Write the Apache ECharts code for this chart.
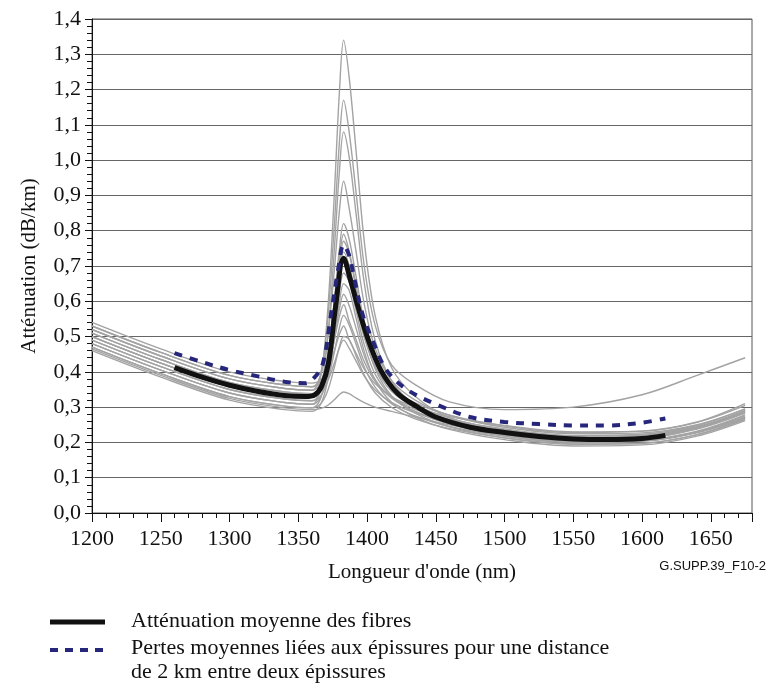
<!DOCTYPE html>
<html>
<head>
<meta charset="utf-8">
<script src="https://cdn.jsdelivr.net/npm/echarts@6/dist/echarts.min.js"></script>
<style>
  html, body { margin: 0; padding: 0; background: #fff; }
  #fig { width: 774px; height: 693px; }
</style>
</head>
<body>
<div id="fig"></div>
<script>
// longueurs d'onde communes aux courbes des fibres (nm)
const fiberWl = [1200, 1250, 1300, 1340, 1360, 1366, 1371, 1376, 1380, 1383, 1387, 1392, 1398, 1406, 1418, 1435, 1460, 1500, 1550, 1600, 1640, 1675];

// attenuation de chaque fibre (dB/km)
const f01 = [0.50, 0.425, 0.36, 0.333, 0.328, 0.379, 0.551, 0.885, 1.198, 1.34, 1.236, 1.028, 0.77, 0.558, 0.411, 0.331, 0.27, 0.228, 0.21, 0.212, 0.24, 0.29];
const f02 = [0.52, 0.445, 0.38, 0.353, 0.348, 0.389, 0.529, 0.80, 1.055, 1.17, 1.08, 0.91, 0.70, 0.531, 0.419, 0.364, 0.315, 0.293, 0.30, 0.335, 0.39, 0.44];
const f03 = [0.48, 0.405, 0.34, 0.313, 0.308, 0.347, 0.478, 0.733, 0.972, 1.08, 1.01, 0.85, 0.652, 0.488, 0.373, 0.306, 0.255, 0.218, 0.20, 0.205, 0.23, 0.275];
const f04 = [0.53, 0.455, 0.39, 0.363, 0.358, 0.387, 0.486, 0.678, 0.859, 0.94, 0.864, 0.742, 0.592, 0.466, 0.375, 0.32, 0.277, 0.243, 0.225, 0.227, 0.25, 0.295];
const f05 = [0.49, 0.415, 0.35, 0.323, 0.318, 0.343, 0.428, 0.594, 0.75, 0.82, 0.777, 0.671, 0.541, 0.431, 0.35, 0.30, 0.26, 0.228, 0.212, 0.215, 0.24, 0.285];
const f06 = [0.51, 0.435, 0.37, 0.343, 0.338, 0.361, 0.437, 0.587, 0.727, 0.79, 0.742, 0.646, 0.528, 0.428, 0.354, 0.307, 0.269, 0.236, 0.218, 0.22, 0.245, 0.29];
const f07 = [0.47, 0.395, 0.33, 0.303, 0.298, 0.322, 0.402, 0.558, 0.704, 0.77, 0.735, 0.635, 0.512, 0.408, 0.332, 0.283, 0.244, 0.213, 0.195, 0.197, 0.222, 0.265];
const f08 = [0.50, 0.425, 0.36, 0.333, 0.328, 0.349, 0.419, 0.555, 0.682, 0.74, 0.701, 0.613, 0.505, 0.413, 0.344, 0.30, 0.263, 0.232, 0.214, 0.218, 0.242, 0.288];
const f09 = [0.52, 0.445, 0.38, 0.353, 0.348, 0.366, 0.428, 0.547, 0.659, 0.71, 0.671, 0.593, 0.498, 0.415, 0.353, 0.312, 0.277, 0.247, 0.228, 0.232, 0.258, 0.31];
const f10 = [0.48, 0.405, 0.34, 0.313, 0.308, 0.327, 0.39, 0.513, 0.628, 0.68, 0.655, 0.575, 0.477, 0.393, 0.33, 0.287, 0.252, 0.222, 0.205, 0.207, 0.232, 0.278];
const f11 = [0.46, 0.385, 0.32, 0.293, 0.288, 0.306, 0.368, 0.487, 0.599, 0.65, 0.631, 0.553, 0.458, 0.375, 0.313, 0.272, 0.237, 0.208, 0.19, 0.193, 0.218, 0.262];
const f12 = [0.50, 0.425, 0.36, 0.333, 0.328, 0.343, 0.392, 0.489, 0.579, 0.62, 0.588, 0.524, 0.446, 0.378, 0.325, 0.288, 0.256, 0.228, 0.21, 0.213, 0.238, 0.283];
const f13 = [0.53, 0.455, 0.39, 0.363, 0.358, 0.37, 0.409, 0.486, 0.558, 0.59, 0.544, 0.492, 0.429, 0.373, 0.328, 0.294, 0.265, 0.238, 0.22, 0.223, 0.248, 0.295];
const f14 = [0.49, 0.415, 0.35, 0.323, 0.318, 0.33, 0.371, 0.451, 0.526, 0.56, 0.533, 0.479, 0.414, 0.356, 0.309, 0.275, 0.245, 0.218, 0.20, 0.203, 0.228, 0.272];
const f15 = [0.47, 0.395, 0.33, 0.303, 0.298, 0.308, 0.342, 0.409, 0.472, 0.50, 0.492, 0.446, 0.391, 0.34, 0.299, 0.267, 0.239, 0.213, 0.196, 0.198, 0.222, 0.268];
const f16 = [0.51, 0.435, 0.37, 0.343, 0.338, 0.346, 0.371, 0.422, 0.469, 0.49, 0.467, 0.431, 0.388, 0.348, 0.313, 0.284, 0.258, 0.232, 0.215, 0.218, 0.243, 0.29];
const f17 = [0.465, 0.39, 0.325, 0.298, 0.293, 0.296, 0.304, 0.32, 0.336, 0.343, 0.338, 0.326, 0.313, 0.30, 0.288, 0.272, 0.25, 0.222, 0.203, 0.205, 0.228, 0.27];
const f18 = [0.54, 0.465, 0.40, 0.373, 0.368, 0.376, 0.404, 0.457, 0.507, 0.53, 0.491, 0.453, 0.408, 0.366, 0.329, 0.30, 0.273, 0.248, 0.23, 0.232, 0.257, 0.305];
const fibers = [f01, f02, f03, f04, f05, f06, f07, f08, f09, f10, f11, f12, f13, f14, f15, f16, f17, f18];

// attenuation moyenne des fibres
const meanWl  = [1260, 1280, 1300, 1320, 1340, 1355, 1362, 1367, 1372, 1377, 1383, 1388, 1393, 1401, 1410, 1422, 1436, 1450, 1475, 1500, 1525, 1550, 1575, 1600, 1617];
const meanAtt = [0.412, 0.385, 0.362, 0.345, 0.333, 0.330, 0.335, 0.359, 0.425, 0.58, 0.722, 0.66, 0.59, 0.49, 0.405, 0.34, 0.302, 0.272, 0.243, 0.228, 0.217, 0.21, 0.208, 0.211, 0.22];

// pertes moyennes liees aux epissures (2 km)
const spliceWl  = [1260, 1280, 1300, 1320, 1340, 1355, 1362, 1368, 1374, 1379, 1383, 1387, 1391, 1397, 1404, 1414, 1429, 1451, 1475, 1500, 1525, 1550, 1575, 1600, 1617];
const spliceAtt = [0.453, 0.428, 0.405, 0.388, 0.372, 0.368, 0.385, 0.425, 0.567, 0.69, 0.76, 0.73, 0.66, 0.56, 0.49, 0.406, 0.35, 0.307, 0.272, 0.258, 0.252, 0.248, 0.248, 0.256, 0.268];

const legendLabels = [
  'Atténuation moyenne des fibres',
  'Pertes moyennes liées aux épissures pour une distance',
  'de 2 km entre deux épissures'
];

const serif = '"Liberation Serif", "Times New Roman", serif';
const zip = (xs, ys) => xs.map((x, i) => [x, ys[i]]);

var series = fibers.map(function (f, i) {
  return {
    name: 'fibre ' + (i + 1),
    type: 'line',
    data: zip(fiberWl, f),
    smooth: 0.35,
    showSymbol: false,
    silent: true,
    lineStyle: { color: '#a3a3a3', width: 1.4 }
  };
});
series.push({
  name: legendLabels[0],
  type: 'line',
  data: zip(meanWl, meanAtt),
  smooth: 0.35,
  showSymbol: false,
  lineStyle: { color: '#111', width: 5 },
  z: 3
});
series.push({
  name: legendLabels[1],
  type: 'line',
  data: zip(spliceWl, spliceAtt),
  smooth: 0.35,
  showSymbol: false,
  lineStyle: { color: '#26267a', width: 4, type: [8, 8] },
  z: 4
});

var chart = echarts.init(document.getElementById('fig'));
chart.setOption({
  animation: false,
  textStyle: { fontFamily: serif },
  title: {
    text: 'G.SUPP.39_F10-2',
    right: 3,
    top: 555,
    textStyle: { fontFamily: '"Liberation Sans", Arial, sans-serif', fontSize: 13, fontWeight: 'normal', color: '#111' }
  },
  grid: {
    left: 92, right: 22, top: 19, bottom: 180,
    show: true,
    borderColor: '#555',
    borderWidth: 1
  },
  xAxis: {
    type: 'value',
    min: 1200,
    max: 1680,
    interval: 50,
    name: "Longueur d'onde (nm)",
    nameLocation: 'middle',
    nameGap: 49,
    nameTextStyle: { fontFamily: serif, fontSize: 21, color: '#111' },
    axisLine: { lineStyle: { color: '#111', width: 1 } },
    axisTick: { length: 9, lineStyle: { color: '#111' } },
    minorTick: { show: true, splitNumber: 5, length: 5, lineStyle: { color: '#111' } },
    axisLabel: {
      fontFamily: serif, fontSize: 22, color: '#111', margin: 15, showMaxLabel: false,
      formatter: function (v) { return String(v); }
    },
    splitLine: { show: false }
  },
  yAxis: {
    type: 'value',
    min: 0,
    max: 1.4,
    interval: 0.1,
    name: 'Atténuation (dB/km)',
    nameLocation: 'middle',
    nameGap: 52,
    nameTextStyle: { fontFamily: serif, fontSize: 21, color: '#111' },
    axisLine: { show: true, lineStyle: { color: '#111', width: 1 } },
    axisTick: { show: true, length: 7, lineStyle: { color: '#111' } },
    minorTick: { show: true, splitNumber: 5, length: 5, lineStyle: { color: '#111' } },
    axisLabel: {
      fontFamily: serif, fontSize: 22, color: '#111', margin: 11,
      formatter: function (v) { return v.toFixed(1).replace('.', ','); }
    },
    splitLine: { show: true, lineStyle: { color: '#666', width: 1.2 } }
  },
  graphic: [
    { type: 'line', shape: { x1: 50, y1: 622, x2: 105, y2: 622 }, style: { stroke: '#111', lineWidth: 5 } },
    { type: 'line', shape: { x1: 50, y1: 650, x2: 105, y2: 650 }, style: { stroke: '#26267a', lineWidth: 4, lineDash: [8, 7] } },
    { type: 'text', left: 131, top: 610, style: { text: legendLabels[0], font: '22px ' + serif, fill: '#111' } },
    { type: 'text', left: 131, top: 637, style: { text: legendLabels[1], font: '22px ' + serif, fill: '#111' } },
    { type: 'text', left: 131, top: 661, style: { text: legendLabels[2], font: '22px ' + serif, fill: '#111' } }
  ],
  series: series
});
</script>
</body>
</html>
